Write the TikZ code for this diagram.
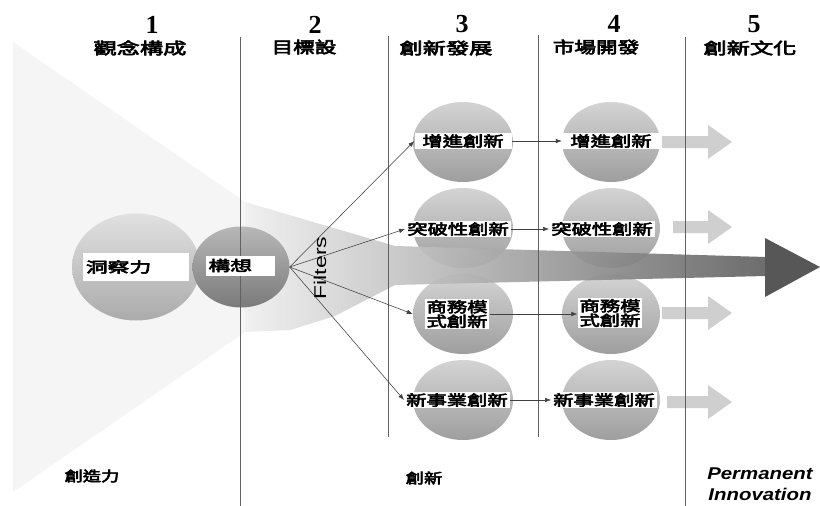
\documentclass[tikz,border=0pt]{standalone}
\usepackage{fontspec}
\newfontfamily\cjk{Noto Sans CJK TC}[FakeBold=3.5]
\newfontfamily\arialf{Liberation Sans}
\newfontfamily\serifnum{Liberation Serif}
\usetikzlibrary{shapes.geometric,arrows.meta,calc}
\newcommand{\cj}[2][1.4]{\scalebox{#1}[1]{\cjk #2}}
\newcommand{\sarrow}[2]{\fill[sarr] (#1,{#2-6}) -- (708,{#2-6}) -- (708,{#2-17}) -- (732,#2) -- (708,{#2+17}) -- (708,{#2+6}) -- (#1,{#2+6}) -- cycle;}
\tikzset{
  ball/.style={ellipse, draw=none, shading=axis, top color=black!17, bottom color=black!38, inner sep=0pt},
  lbl/.style={fill=white, inner xsep=2pt, inner ysep=1.5pt, font=\fontsize{14.5}{15.5}\selectfont, align=center},
  hdr/.style={font=\fontsize{16}{17}\selectfont},
  foot/.style={font=\fontsize{14}{15}\selectfont},
  num/.style={font=\serifnum\bfseries\fontsize{26}{26}\selectfont},
  vline/.style={draw=black!62, line width=0.8pt},
  link/.style={draw=black!75, line width=0.55pt, -{Latex[length=6pt,width=4.5pt]}},
  sarr/.style={fill=black!19},
}
\begin{document}
\begin{tikzpicture}[x=1pt,y=-1pt]
\useasboundingbox (0,0) rectangle (820,506);
\fill[white] (0,0) rectangle (820,506);
% large light wedge
\fill[black!4] (13,42) -- (245,202) -- (245,332) -- (13,492) -- cycle;
% columns 3/4 circles (under the shaft)
\foreach \y/\n in {142/1,228/2,314/3,400/4}{
  \node[ball, minimum width=100pt, minimum height=80pt] (c3\n) at (463,\y) {};
  \node[ball, minimum width=98pt, minimum height=80pt] (c4\n) at (611,\y) {};
}
% fan and shaft
\shade[left color=black!6, middle color=black!28, right color=black!62, opacity=0.92]
  (245,202) -- (395,246) -- (766,257) -- (766,276) -- (395,285) -- (335,316) -- (290,330) -- (245,332) -- cycle;
\fill[black!66] (765,238) -- (820,267) -- (765,297) -- cycle;
% small arrows column 5
\sarrow{662}{142}
\sarrow{673}{227}
\sarrow{662}{313}
\sarrow{667}{402}
% left circles
\node[ball, minimum width=128pt, minimum height=107pt, top color=black!12, bottom color=black!33] (k1) at (136,267) {};
\node[ball, minimum width=97pt, minimum height=81pt, top color=black!28, bottom color=black!52] (k2) at (241,267) {};
% vertical lines
\draw[vline] (240,37) -- (240,506);
\draw[vline] (388,36) -- (388,437);
\draw[vline] (538,35) -- (538,437);
\draw[vline] (685,37) -- (685,506);
% headers
\node[num] (n1) at (152,25) {1};
\node[num] (n2) at (315,25) {2};
\node[num] (n3) at (462,24) {3};
\node[num] (n4) at (614,24) {4};
\node[num] (n5) at (754,24) {5};
\node[hdr] (h1) at (140,48) {\cj[1.45]{觀念構成}};
\node[hdr] (h2) at (304,47) {\cj[1.35]{目標設}};
\node[hdr] (h3) at (446,48) {\cj[1.45]{創新發展}};
\node[hdr] (h4) at (596,47) {\cj[1.35]{市場開發}};
\node[hdr] (h5) at (750,48) {\cj[1.45]{創新文化}};
% labels
\node[lbl, minimum width=106pt, minimum height=28pt, text width=100pt, align=left] (l1) at (136,267) {\cj[1.5]{洞察力}};
\node[lbl, minimum width=69pt, minimum height=20pt, text width=64pt, align=left] (l2) at (240.5,265.5) {\cj[1.5]{構想}};
\node[lbl, minimum width=97pt] (b31) at (463,141) {\cj{增進創新}};
\node[lbl, minimum width=98pt] (b41) at (611,141) {\cj{增進創新}};
\node[lbl] (b32) at (458,229) {\cj{突破性創新}};
\node[lbl] (b42) at (602,229) {\cj{突破性創新}};
\node[lbl] (b33) at (457,314) {\cj{商務模}\\[-1pt]\cj{式創新}};
\node[lbl] (b43) at (610,313) {\cj{商務模}\\[-1pt]\cj{式創新}};
\node[lbl] (b34) at (457,400) {\cj{新事業創新}};
\node[lbl] (b44) at (604,400) {\cj{新事業創新}};
% filter connectors
\draw[link] (k2.east) -- (b31.west);
\draw[link] (k2.east) -- (b32.west);
\draw[link] (k2.east) -- (c33.west);
\draw[link] (k2.east) -- (b34.west);
% column 3 -> column 4
\draw[link] (b31.east) -- (b41.west);
\draw[link] (b32.east) -- (b42.west);
\draw[link] (b33.east |- c33.center) -- (b43.west |- c43.center);
\draw[link] (b34.east) -- (b44.west);
% Filters text
\node[rotate=90, font=\arialf\fontsize{17}{17}\selectfont] (flt) at (320,268) {\scalebox{1.35}[1]{Filters}};
% footers
\node[foot] (f1) at (92,476) {\cj[1.3]{創造力}};
\node[foot] (f2) at (424,478) {\cj[1.3]{創新}};
\node[font=\arialf\bfseries\itshape\fontsize{17}{21}\selectfont, align=center] (perm) at (760,484) {\scalebox{1.2}[1]{Permanent}\\\scalebox{1.2}[1]{Innovation}};
\end{tikzpicture}
\end{document}
